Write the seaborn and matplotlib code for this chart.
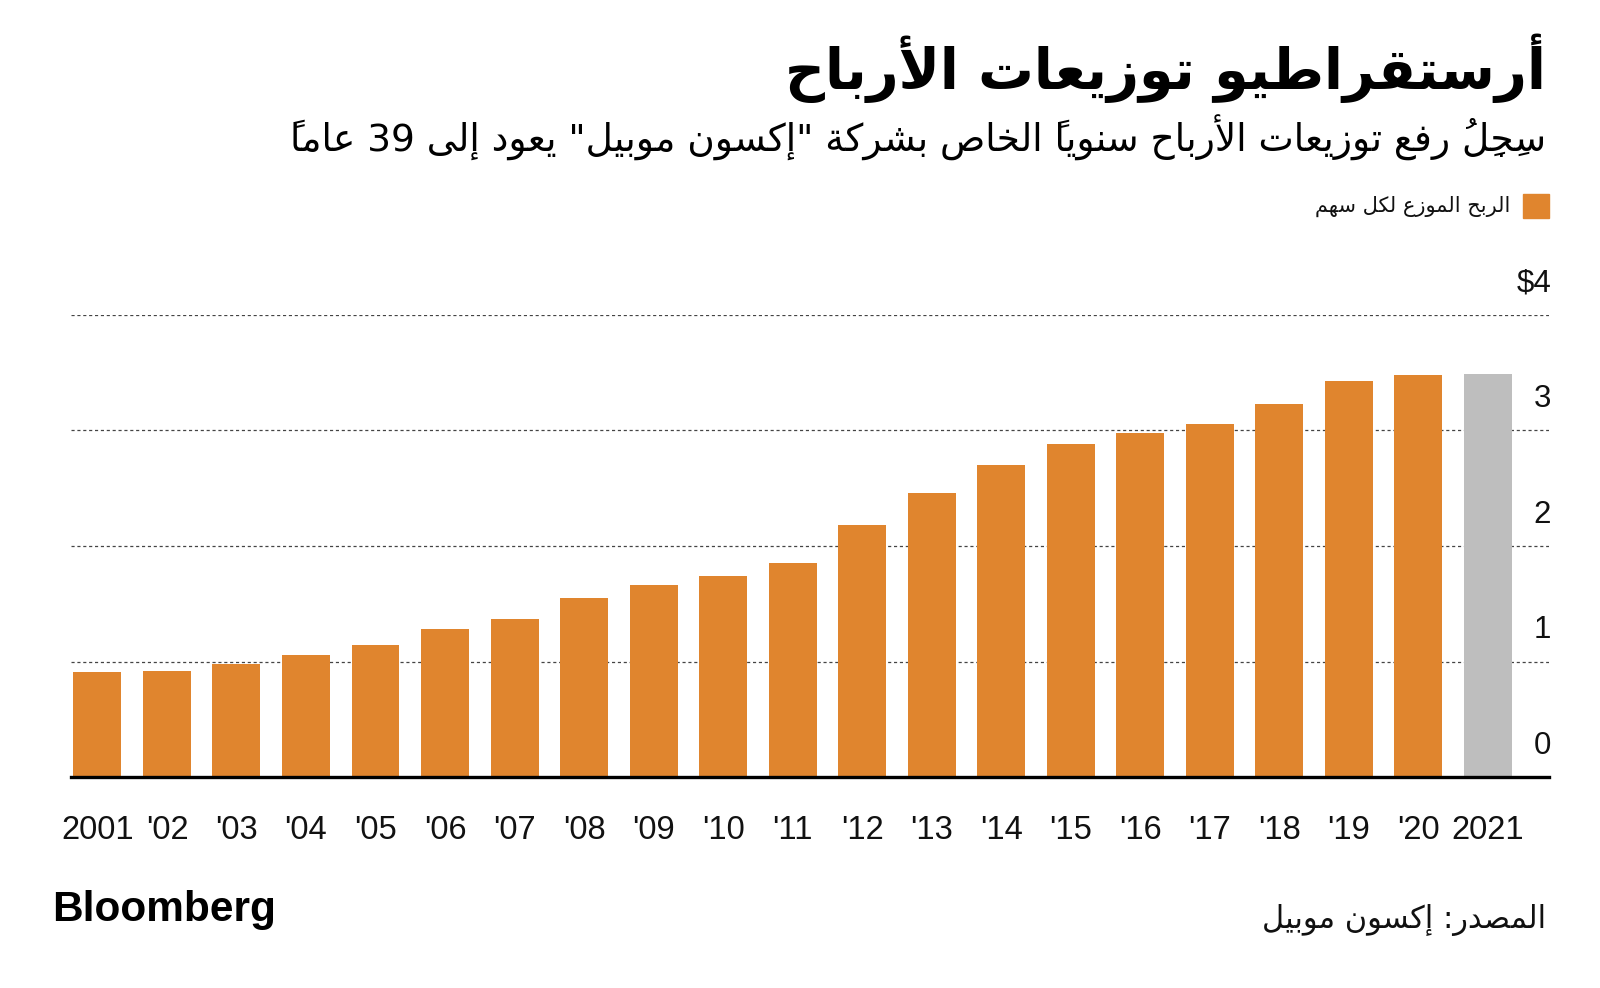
import matplotlib
matplotlib.use('Agg')
import matplotlib.pyplot as plt
import matplotlib.transforms as mtransforms
from matplotlib.patches import Rectangle
import pandas as pd
import seaborn as sns

# Data (Exxon Mobil dividend per share, 2021 shown in grey)
years = ['2001', "'02", "'03", "'04", "'05", "'06", "'07", "'08", "'09", "'10",
         "'11", "'12", "'13", "'14", "'15", "'16", "'17", "'18", "'19", "'20", '2021']
dividends = [0.91, 0.92, 0.98, 1.06, 1.14, 1.28, 1.37, 1.55, 1.66, 1.74,
             1.85, 2.18, 2.46, 2.70, 2.88, 2.98, 3.06, 3.23, 3.43, 3.48, 3.49]
bar_kind = ['paid'] * 20 + ['current']
y_ticks = [0, 1, 2, 3, 4]
y_tick_labels = ['0', '1', '2', '3', '$4']

title = 'أرستقراطيو توزيعات الأرباح'
subtitle = 'سِجِلُ رفع توزيعات الأرباح سنوياً الخاص بشركة "إكسون موبيل" يعود إلى 39 عاماً'
legend_label = 'الربح الموزع لكل سهم'
source = 'المصدر: إكسون موبيل'

ORANGE = '#E0852E'
GREY = '#BEBEBE'

# --- minimal Arabic shaping: matplotlib has no text shaping / bidi ---
_letters = [chr(c) for c in list(range(0x621, 0x63B)) + list(range(0x641, 0x64B))]
_counts = [1, 2, 2, 2, 2, 4, 2, 4, 2, 4, 4, 4, 4, 4, 2, 2, 2, 2, 4, 4,
           4, 4, 4, 4, 4, 4, 4, 4, 4, 4, 4, 4, 4, 2, 2, 4]
FORMS = {}
_base = 0xFE80
for _ch, _n in zip(_letters, _counts):
    FORMS[_ch] = (_base, _n)
    _base += _n
LAM_ALEF = {'\u0622': 0xFEF5, '\u0623': 0xFEF7, '\u0625': 0xFEF9, '\u0627': 0xFEFB}
MARKS = set(chr(c) for c in range(0x64B, 0x653))


def shape_arabic(text):
    units = []
    for c in text:
        if c in MARKS and units:
            units[-1][1] += c
        elif c in LAM_ALEF and units and units[-1][0] == '\u0644' and not units[-1][1]:
            units[-1][0] = 'LA' + c
        else:
            units.append([c, ''])

    def nforms(u):
        if u.startswith('LA'):
            return 2
        return FORMS.get(u, (0, 0))[1]

    tokens = []
    for k, (u, marks) in enumerate(units):
        n = nforms(u)
        if n == 0:
            if u.isascii() and u.isalnum() and tokens and tokens[-1][1]:
                tokens[-1][0] += u
            else:
                tokens.append([marks + u, u.isascii() and u.isalnum()])
            continue
        prev_j = n >= 2 and k > 0 and nforms(units[k - 1][0]) == 4
        next_j = n == 4 and k + 1 < len(units) and nforms(units[k + 1][0]) >= 2
        idx = 0 if n == 1 else int(prev_j) + 2 * int(next_j)
        base = LAM_ALEF[u[2]] if u.startswith('LA') else FORMS[u][0]
        # zero-width marks go before their base so they land on it
        tokens.append([marks + chr(base + idx), False])
    return ''.join(t[0] for t in reversed(tokens))


sns.set_style('white')
plt.rcParams['font.family'] = ['Liberation Sans', 'DejaVu Sans']
AR = ['DejaVu Sans']

W, H = 1600, 988
fig = plt.figure(figsize=(16, 9.88), dpi=100)
ax = fig.add_axes([71 / W, 1 - 777 / H, 1478 / W, (777 - 315) / H])

df = pd.DataFrame({'year': years, 'dividend': dividends, 'kind': bar_kind})
sns.barplot(data=df, x='year', y='dividend', hue='kind',
            palette={'paid': ORANGE, 'current': GREY}, dodge=False,
            width=0.69, saturation=1, linewidth=0, legend=False, ax=ax, zorder=2)

ax.set_xlim(-0.38, 20.88)
ax.set_ylim(0, 4)
for v in y_ticks[1:]:
    ax.axhline(v, color='#444444', lw=0.9, ls=(0, (2.5, 2.2)), zorder=0.5)

trans = mtransforms.blended_transform_factory(ax.transAxes, ax.transData)
for v, lab in zip(y_ticks, y_tick_labels):
    ax.text(1 + 2 / 1478, v + 0.27, lab, transform=trans, ha='right', va='center',
            fontsize=22.5, color='#111111')

ax.set_yticks([])
ax.set_xlabel('')
ax.set_ylabel('')
ax.tick_params(axis='x', length=11, width=2.2, color='black', labelsize=23.5,
               pad=16, labelcolor='#111111')
for s in ['top', 'left', 'right']:
    ax.spines[s].set_visible(False)
ax.spines['bottom'].set_linewidth(2.4)
ax.spines['bottom'].set_color('black')

# titles and notes
fig.text(1546 / W, 1 - 68 / H, shape_arabic(title), ha='right', va='center',
         fontsize=40, fontweight='bold', family=AR, color='black')
fig.text(1546 / W, 1 - 138 / H, shape_arabic(subtitle), ha='right', va='center',
         fontsize=27, family=AR, color='black')

fig.patches.append(Rectangle((1523 / W, 1 - 218 / H), 26 / W, 24 / H,
                             transform=fig.transFigure, color=ORANGE))
fig.text(1510 / W, 1 - 206 / H, shape_arabic(legend_label), ha='right', va='center',
         fontsize=15, family=AR, color='#111111')

fig.text(1546 / W, 1 - 920 / H, shape_arabic(source), ha='right', va='center',
         fontsize=22, family=AR, color='#111111')
fig.text(52 / W, 1 - 910 / H, 'Bloomberg', ha='left', va='center',
         fontsize=30.5, fontweight='bold', color='black')

fig.savefig('out.png', dpi=100)
